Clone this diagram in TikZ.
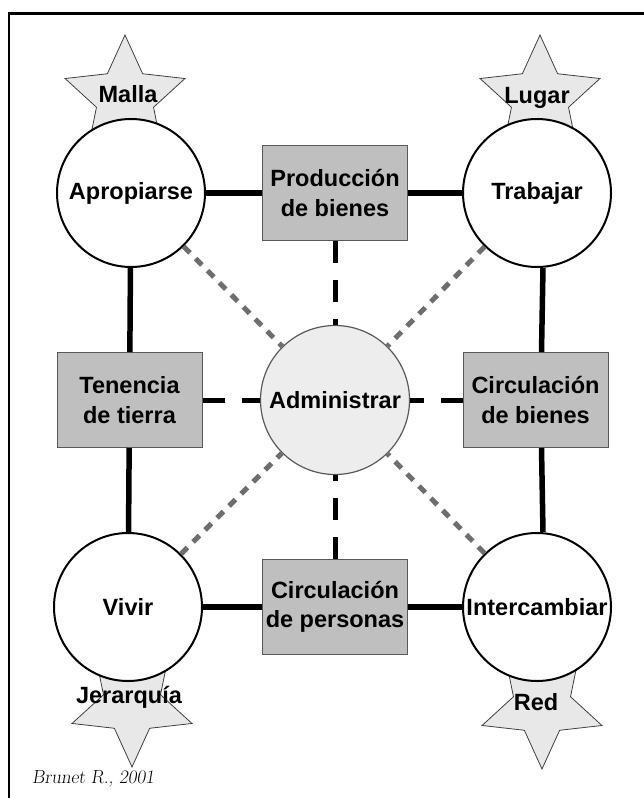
\documentclass[tikz,border=0pt]{standalone}
\usepackage{fontspec}
\newfontfamily\arialf{Liberation Sans}
\usetikzlibrary{shapes.geometric}
\begin{document}
\begin{tikzpicture}[x=1pt,y=-1pt,
 lab/.style={font=\arialf\bfseries\fontsize{23.5}{29.5}\selectfont, align=center, inner sep=0pt},
 circ/.style={circle, draw=black, line width=2pt, fill=white, minimum size=148pt, inner sep=0pt, lab},
 admc/.style={circle, draw=black!65, line width=1.2pt, fill=black!7, minimum size=149pt, inner sep=0pt, lab},
 gbox/.style={rectangle, draw=black!65, line width=1pt, fill=black!25, minimum width=145pt, minimum height=95pt, inner sep=0pt, lab},
 starn/.style={star, star points=5, star point ratio=2.1, minimum size=126pt, draw=black!75, line width=0.8pt, fill=black!9, inner sep=0pt},
 solidc/.style={line width=5.5pt},
 dashc/.style={line width=5pt, dash pattern=on 22pt off 17pt},
 dotc/.style={line width=5pt, draw=black!57, dash pattern=on 9pt off 8pt}]
\useasboundingbox (0,0) rectangle (643,798);
% frame
\draw[line width=2.5pt] (9,805) -- (9,13.5) -- (650,13.5);
% stars
\node[starn] (s1) at (125,98) {};
\node[starn] (s2) at (540,98) {};
\node[starn, shape border rotate=180] (s3) at (132,704) {};
\node[starn, shape border rotate=180] (s4) at (542,706) {};
% main nodes
\node[circ] (apro) at (131,193) {Apropiarse};
\node[circ] (trab) at (537,193) {Trabajar};
\node[circ] (viv) at (128,607) {Vivir};
\node[circ] (inter) at (537,607) {Intercambiar};
\node[gbox] (prod) at (335,193) {Producción\\de bienes};
\node[gbox] (ten) at (129.5,400) {Tenencia\\de tierra};
\node[gbox] (bien) at (535.5,400) {Circulación\\de bienes};
\node[gbox] (pers) at (335,607) {Circulación\\de personas};
\node[admc] (adm) at (335,400) {Administrar};
% star labels
\node[lab] (l1) at (128,94) {Malla};
\node[lab] (l2) at (537,98) {Lugar};
\node[lab] (l3) at (129,697) {Jerarquía};
\node[lab] (l4) at (536,702) {Red};
% solid connectors
\draw[solidc] (apro) -- (prod);
\draw[solidc] (prod) -- (trab);
\draw[solidc] (viv) -- (pers);
\draw[solidc] (pers) -- (inter);
\draw[solidc] (apro) -- (ten);
\draw[solidc] (ten) -- (viv);
\draw[solidc] ([xshift=6pt]trab.south) -- ([xshift=6pt]bien.north);
\draw[solidc] ([xshift=6pt]bien.south) -- ([xshift=6pt]inter.north);
% dashed connectors
\draw[dashc] (prod) -- (adm);
\draw[dashc] (ten) -- (adm);
\draw[dashc] (bien) -- (adm);
\draw[dashc] (pers) -- (adm);
% gray dotted diagonals
\draw[dotc] (apro) -- (adm);
\draw[dotc] (trab) -- (adm);
\draw[dotc] (viv) -- (adm);
\draw[dotc] (inter) -- (adm);
% credit
\node[anchor=west, inner sep=0pt, font=\fontsize{19}{22}\selectfont\slshape] (cred) at (32,779) {Brunet R., 2001};
\end{tikzpicture}
\end{document}
